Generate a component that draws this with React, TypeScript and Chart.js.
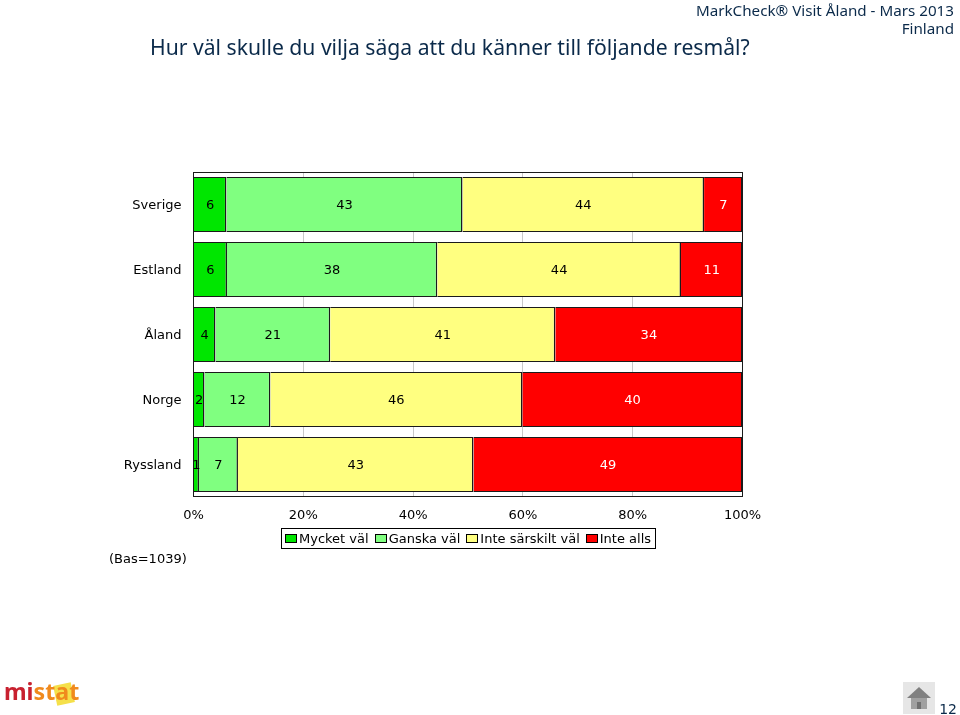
import React, { useEffect, useRef } from "react";
import { Chart, registerables } from "chart.js";

Chart.register(...registerables);

const categories = ["Sverige", "Estland", "Åland", "Norge", "Ryssland"];
const seriesNames = ["Mycket väl", "Ganska väl", "Inte särskilt väl", "Inte alls"];
const seriesColors = ["#00e600", "#80ff80", "#ffff80", "#ff0000"];
const labelColors = ["#000000", "#000000", "#000000", "#ffffff"];
const mycketVal = [6.0, 6.1, 4.0, 2.0, 1.0];
const ganskaVal = [43.0, 38.3, 20.9, 12.0, 7.1];
const inteSarskiltVal = [44.0, 44.4, 41.0, 45.9, 42.9];
const inteAlls = [7.0, 11.2, 34.1, 40.1, 49.0];
const seriesValues = [mycketVal, ganskaVal, inteSarskiltVal, inteAlls];
const FONT = "'DejaVu Sans', Verdana, sans-serif";
const HEAD = "'Noto Sans', Tahoma, sans-serif";

const valueLabels = {
  id: "valueLabels",
  afterDatasetsDraw(chart: any) {
    const { ctx } = chart;
    ctx.save();
    ctx.font = `13px ${FONT}`;
    ctx.textAlign = "center";
    ctx.textBaseline = "middle";
    chart.data.datasets.forEach((ds: any, i: number) => {
      chart.getDatasetMeta(i).data.forEach((bar: any, j: number) => {
        ctx.fillStyle = labelColors[i];
        const x = (bar.base + bar.x) / 2;
        ctx.fillText(String(Math.round(ds.data[j])), x, bar.y + 1);
      });
    });
    ctx.restore();
  },
};

const plotFrame = {
  id: "plotFrame",
  afterDraw(chart: any) {
    const { ctx, chartArea: a } = chart;
    ctx.save();
    ctx.strokeStyle = "#1a1a1a";
    ctx.lineWidth = 1;
    ctx.strokeRect(a.left, a.top + 0.5, a.right - a.left, a.bottom - a.top - 1);
    ctx.restore();
  },
};

export default function App() {
  const ref = useRef<HTMLCanvasElement>(null);
  useEffect(() => {
    document.body.style.margin = "0";
    const chart = new Chart(ref.current!, {
      type: "bar",
      data: {
        labels: categories,
        datasets: seriesValues.map((data, i) => ({
          label: seriesNames[i],
          data,
          backgroundColor: seriesColors[i],
          borderColor: "#1a1a1a",
          borderWidth: { top: 1, bottom: 1, right: 1.5, left: 0 },
          categoryPercentage: 55 / 65,
          barPercentage: 1,
        })),
      },
      options: {
        indexAxis: "y",
        responsive: false,
        animation: false,
        layout: { padding: { left: 0, top: 172, right: 217.5, bottom: 188 } },
        plugins: { legend: { display: false }, title: { display: false }, tooltip: { enabled: false } },
        scales: {
          x: {
            stacked: true,
            min: 0,
            max: 100,
            afterFit(s: any) { s.height = 30; },
            grid: { color: "#c8c8c8", drawTicks: false },
            border: { display: false },
            ticks: { stepSize: 20, callback: (v: any) => `${v}%`, color: "#000", padding: 11, maxRotation: 0, autoSkip: false, font: { family: FONT, size: 13 } },
          },
          y: {
            stacked: true,
            afterFit(s: any) { s.width = 193.5; },
            grid: { display: false },
            border: { display: false },
            ticks: { color: "#000", padding: 4, labelOffset: 1, font: { family: FONT, size: 13 } },
          },
        },
      } as any,
      plugins: [valueLabels, plotFrame],
    });
    return () => chart.destroy();
  }, []);
  const txt: React.CSSProperties = { position: "absolute", fontFamily: FONT, whiteSpace: "nowrap" };
  return (
    <div style={{ position: "relative", width: 960, height: 715, overflow: "hidden", background: "#fff" }}>
      <canvas ref={ref} width={960} height={715} style={{ position: "absolute", left: 0, top: 0 }} />
      <div style={{ ...txt, left: 150, top: 32, fontSize: 21.15, fontFamily: HEAD, color: "#0b2a4a" }}>Hur väl skulle du vilja säga att du känner till följande resmål?</div>
      <div style={{ ...txt, right: 6, top: 2, fontSize: 15.2, fontFamily: HEAD, lineHeight: "17.5px", color: "#0b2a4a", textAlign: "right" }}>
        MarkCheck® Visit Åland - Mars 2013<br />Finland
      </div>
      <div style={{ ...txt, left: 109, top: 551, fontSize: 13, color: "#000" }}>(Bas=1039)</div>
      <div style={{ ...txt, left: 281, top: 528, width: 373, height: 19, border: "1px solid #000", fontSize: 13, color: "#000", display: "flex", alignItems: "center" }}>
        {seriesNames.map((n, i) => (
          <span key={n} style={{ display: "flex", alignItems: "center", marginLeft: 3, marginRight: 3 }}>
            <span style={{ width: 10, height: 7, background: seriesColors[i], border: "1px solid #000", marginRight: 2 }} />
            {n}
          </span>
        ))}
      </div>
      <div style={{ position: "absolute", left: 55, top: 684, width: 18, height: 20, background: "#f5e04a", transform: "rotate(-12deg)" }} />
      <div style={{ ...txt, left: 4, top: 675, fontSize: 23.2, fontWeight: 700, fontFamily: HEAD }}>
        <span style={{ color: "#c8202f" }}>mi</span><span style={{ color: "#f08a1d" }}>stat</span>
      </div>
      <svg style={{ position: "absolute", left: 903, top: 682 }} width={32} height={32} viewBox="0 0 32 32">
        <rect width="32" height="32" fill="#e6e6e6" />
        <path d="M4 16 L16 5 L28 16 Z" fill="#808080" />
        <rect x="8" y="16" width="16" height="11" fill="#a0a0a0" />
        <rect x="14" y="20" width="4" height="7" fill="#707070" />
      </svg>
      <div style={{ ...txt, right: 3, top: 701, fontSize: 14, color: "#0b2a4a" }}>12</div>
    </div>
  );
}
